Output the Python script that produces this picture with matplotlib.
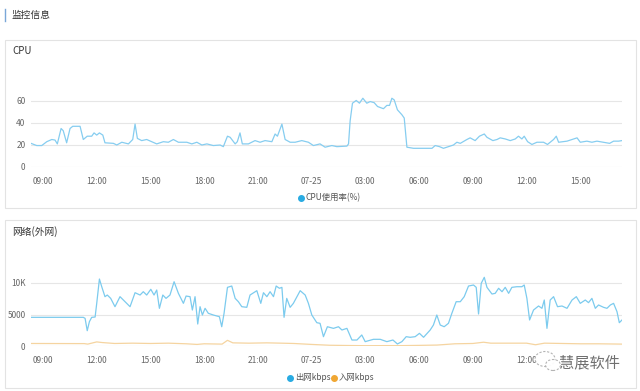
import matplotlib
matplotlib.use("Agg")
import matplotlib.pyplot as plt
from matplotlib.patches import Rectangle, Ellipse
from matplotlib.lines import Line2D

plt.rcParams['font.family'] = ['Noto Sans CJK SC', 'DejaVu Sans']

# ---- data (hours since 00:00 of day 1) ----
tick_hours = [9, 12, 15, 18, 21, 24, 27, 30, 33, 36, 39]
tick_labels = ["09:00", "12:00", "15:00", "18:00", "21:00", "07-25",
               "03:00", "06:00", "09:00", "12:00", "15:00"]

cpu_t = [8.33, 8.65, 8.93, 9.21, 9.49, 9.67, 9.80, 10.01, 10.13, 10.32, 10.51, 10.66,
         11.07, 11.25, 11.47, 11.72, 11.85, 12.0, 12.15, 12.34, 12.46, 12.93, 13.12,
         13.40, 13.77, 14.01, 14.14, 14.27, 14.51, 14.79, 15.07, 15.35, 15.72, 16.0,
         16.28, 16.56, 17.03, 17.31, 17.59, 17.87, 18.15, 18.51, 18.89, 19.07, 19.30,
         19.45, 19.73, 19.85, 20.0, 20.13, 20.47, 20.84, 21.12, 21.40, 21.78, 21.96,
         22.09, 22.34, 22.52, 22.80, 23.08, 23.45, 23.82, 24.10, 24.47, 24.75, 25.13,
         25.41, 25.97, 26.06, 26.15, 26.28, 26.49, 26.67, 26.86, 27.08, 27.27, 27.49,
         27.68, 28.01, 28.20, 28.35, 28.48, 28.61, 28.79, 29.04, 29.17, 29.32, 29.69,
         30.72, 30.90, 31.14, 31.36, 31.64, 31.92, 32.11, 32.30, 32.67, 32.85, 33.13,
         33.37, 33.64, 33.79, 34.12, 34.35, 34.53, 34.81, 35.09, 35.37, 35.55, 35.74,
         35.87, 36.06, 36.30, 36.58, 36.95, 37.17, 37.51, 37.66, 37.79, 38.26, 38.54,
         38.82, 39.0, 39.37, 39.65, 39.93, 40.30, 40.64, 40.86, 41.14, 41.33]
cpu_v = [21.5, 19.5, 19.5, 23, 25, 24.5, 21, 35, 33, 22, 35, 37,
         37, 25, 28, 28, 31, 29, 31, 29, 22, 21.5, 20,
         22.5, 21, 25, 39, 26, 24, 25, 23, 21, 23, 22.5,
         25, 22.5, 22.5, 21, 22.5, 20, 21, 19.5, 20, 18.5, 28,
         27, 21, 23, 31, 21, 21, 24, 22.5, 24, 23, 30,
         28, 39, 25, 22.5, 22.5, 24, 22.5, 19.5, 21, 18, 19.5,
         18.5, 19, 21, 42, 58, 60.5, 58, 62.5, 58, 59.5, 58.5,
         55, 53, 56, 56, 62.5, 61, 52, 47.5, 44.5, 18, 17,
         17, 19.5, 18.5, 17, 18.5, 20, 22.5, 21.5, 25, 26.5, 24,
         28, 30, 27, 24, 25, 26.5, 25.5, 24, 25.5, 28, 25.5,
         28, 23, 20.5, 22.5, 22.5, 20.5, 25, 28, 22.5, 23.5, 25,
         26.5, 22.5, 23.5, 22.5, 23.5, 22.5, 21.5, 23.5, 23.5, 24]

out_t = [8.33, 11.25, 11.35, 11.47, 11.59, 11.72, 11.91, 12.0, 12.15, 12.28, 12.46,
         12.59, 12.78, 13.02, 13.30, 13.58, 13.86, 14.14, 14.42, 14.60, 14.79, 15.02,
         15.20, 15.35, 15.50, 15.69, 15.87, 16.09, 16.32, 16.56, 16.84, 16.99, 17.21,
         17.34, 17.49, 17.64, 17.77, 17.90, 18.05, 18.23, 18.51, 18.85, 18.98, 19.11,
         19.30, 19.54, 19.73, 19.91, 20.10, 20.38, 20.56, 20.94, 21.16, 21.31, 21.50,
         21.68, 21.87, 22.02, 22.20, 22.34, 22.46, 22.61, 22.80, 22.98, 23.36, 23.64,
         23.82, 24.01, 24.29, 24.47, 24.66, 24.88, 25.22, 25.50, 25.69, 25.97, 26.25,
         26.53, 26.80, 26.99, 27.45, 27.83, 28.20, 28.54, 28.79, 29.04, 29.28, 29.50,
         29.78, 30.02, 30.25, 30.62, 30.80, 30.99, 31.18, 31.40, 31.64, 31.83, 32.07,
         32.30, 32.52, 32.76, 33.04, 33.19, 33.32, 33.47, 33.64, 33.79, 34.07, 34.25,
         34.44, 34.63, 34.81, 35.0, 35.18, 35.46, 35.74, 35.87, 36.02, 36.17, 36.39,
         36.67, 36.86, 36.99, 37.14, 37.32, 37.51, 37.73, 37.98, 38.26, 38.54, 38.78,
         39.0, 39.28, 39.46, 39.65, 39.84, 40.02, 40.30, 40.49, 40.68, 40.86, 41.05,
         41.18, 41.33]
out_v = [4550, 4550, 4390, 2430, 3860, 4550, 4600, 6770, 10630, 9410, 7830,
         8090, 7560, 6240, 7830, 7030, 6240, 8460, 8090, 8620, 8090, 9000,
         8090, 8890, 5980, 8090, 7560, 8090, 10200, 8360, 6770, 7930, 7830,
         5710, 7830, 3490, 6240, 4920, 5980, 5190, 4920, 4650, 3060, 5190,
         9310, 9520, 7560, 7030, 6240, 6140, 8090, 8780, 6770, 8460, 7830,
         8620, 7830, 9520, 9160, 9310, 4550, 7560, 6140, 6770, 8780, 8090,
         6770, 4920, 3700, 3600, 1480, 3060, 2800, 3060, 2540, 2800, 950,
         950, 1750, 690, 1060, 1060, 690, 950, 320, 690, 1480, 1380,
         1480, 2010, 1380, 2540, 3330, 4920, 3330, 3060, 3600, 5190, 7030,
         7030, 7830, 9520, 9680, 9310, 5080, 9950, 10900, 9310, 8250, 8360,
         9160, 8620, 9310, 8360, 9310, 9410, 9410, 9680, 7560, 4130, 5710,
         6350, 5980, 7300, 2800, 7300, 7830, 6240, 6350, 5980, 7300, 7830,
         6770, 7300, 6880, 7560, 5980, 6510, 6140, 5980, 6510, 6770, 5450,
         3700, 4130]

in_t = [8.33, 11.3, 11.5, 12.0, 12.3, 13.0, 14.0, 15.0, 16.0, 17.0, 17.6, 18.0,
        19.0, 19.3, 19.6, 20.5, 21.5, 22.3, 23.0, 24.0, 25.0, 26.0, 27.0, 28.0,
        29.0, 30.0, 31.0, 32.0, 33.0, 33.6, 34.0, 35.0, 36.0, 36.5, 37.0, 38.0,
        39.0, 40.0, 41.33]
in_v = [400, 380, 300, 650, 550, 400, 450, 400, 450, 350, 250, 350,
        300, 900, 500, 450, 500, 450, 400, 250, 120, 80, 50, 60,
        60, 100, 150, 350, 400, 600, 450, 450, 450, 200, 450, 400,
        350, 350, 300]

W, H = 640, 391
fig = plt.figure(figsize=(W / 100, H / 100), dpi=100)
fig.patch.set_facecolor('white')

def fx(px):
    return px / W

def fy(py):
    return 1 - py / H

# page title
fig.add_artist(Line2D([fx(4.5), fx(4.5)], [fy(9), fy(21)], color='#7aa7d8', lw=1))
fig.text(fx(12), fy(15), "监控信息", fontsize=7, color='#333333', va='center', ha='left')

# panel boxes
for top, bot in [(39.5, 208), (219.5, 388)]:
    fig.add_artist(Rectangle((fx(4.5), fy(bot)), fx(636) - fx(4.5), fy(top) - fy(bot),
                             transform=fig.transFigure, facecolor='white',
                             edgecolor='#e3e3e3', lw=0.8, zorder=0))

fig.text(fx(12), fy(51), "CPU", fontsize=7, color='#333333', va='center', ha='left')
fig.text(fx(12), fy(232), "网络(外网)", fontsize=7, color='#333333', va='center', ha='left')

xl = (8.33, 41.33)
x0, x1 = 31, 622

def make_ax(ybot, ppu, ymax, labels):
    top = ybot - ppu * ymax
    ax = fig.add_axes([fx(x0), fy(ybot), fx(x1) - fx(x0), fy(top) - fy(ybot)])
    ax.set_facecolor('none')
    ax.set_xlim(*xl)
    ax.set_ylim(0, ymax)
    for s in ax.spines.values():
        s.set_visible(False)
    ax.set_xticks(tick_hours)
    ax.set_xticklabels(labels)
    ax.tick_params(axis='both', length=0, labelsize=6, labelcolor='#666666', pad=4)
    ax.tick_params(axis='x', pad=7)
    ax.grid(axis='y', color='#e6e6e6', lw=0.8)
    ax.set_axisbelow(True)
    return ax

ax1 = make_ax(167, 22 / 20, 66, tick_labels)
ax1.set_yticks([0, 20, 40, 60])
ax1.plot(cpu_t, cpu_v, color='#86cdf0', lw=0.9)

# in the network panel the last tick label is hidden under the watermark
ax2 = make_ax(346, 63 / 10000, 12000, tick_labels[:-1] + [""])
ax2.set_yticks([0, 5000, 10000])
ax2.set_yticklabels(["0", "5000", "10K"])
ax2.plot(out_t, out_v, color='#7ccbee', lw=0.9)
ax2.plot(in_t, in_v, color='#f5d4a0', lw=0.9)

# legends
def legend_item(px, py, color, label):
    fig.add_artist(Line2D([fx(px)], [fy(py)], marker='o', markersize=4,
                          color=color, linestyle='none'))
    fig.text(fx(px + 5), fy(py), label, fontsize=6, color='#555555', va='center', ha='left')

legend_item(301, 198, '#29abe2', "CPU使用率(%)")
legend_item(290, 378, '#29abe2', "出网kbps")
legend_item(334, 378, '#f0a733', "入网kbps")

# watermark (WeChat-like icon + name)
for (cx, cy, w, h) in [(545, 359, 20, 15), (553, 365, 15, 11)]:
    fig.add_artist(Ellipse((fx(cx), fy(cy)), w / W, h / H, transform=fig.transFigure,
                           facecolor='white', edgecolor='#b0b0b0', lw=0.8,
                           linestyle=(0, (2, 1.5)), alpha=0.95, zorder=5))
fig.text(fx(559), fy(363), "慧展软件", fontsize=11, color='#707070', va='center',
         ha='left', zorder=6)

fig.savefig("out.png", dpi=100, facecolor='white')
